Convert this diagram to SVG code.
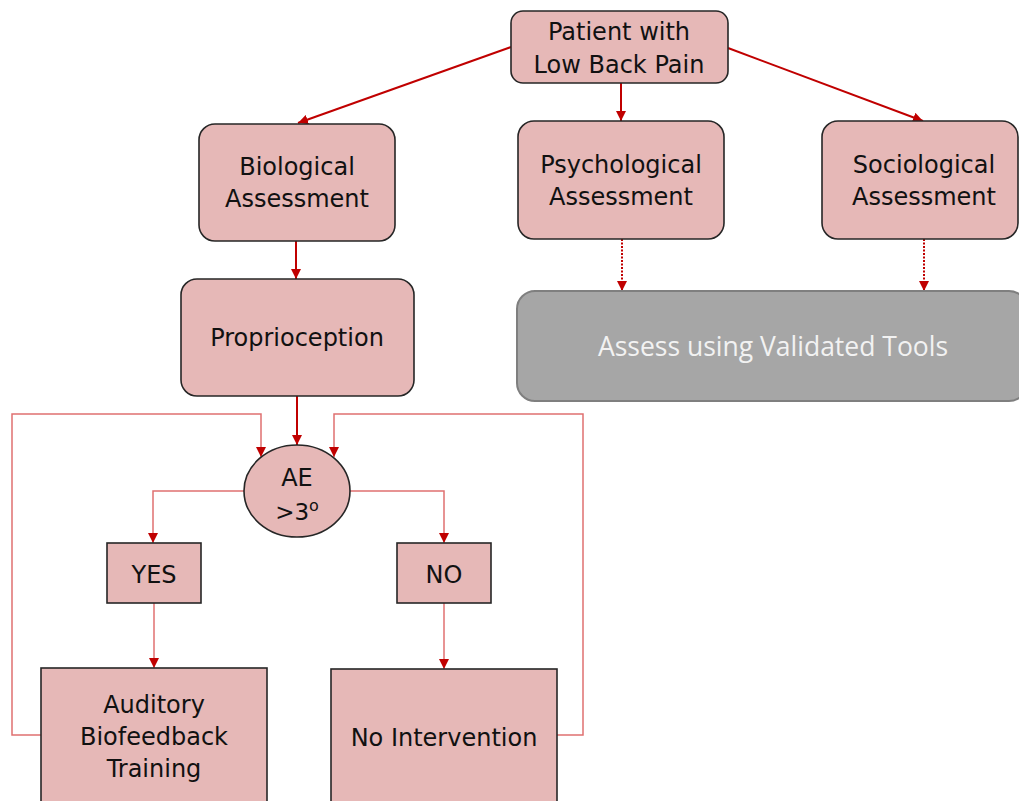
<svg xmlns="http://www.w3.org/2000/svg" width="1019" height="801" viewBox="0 0 1019 801">
<defs>
<style>
.n{fill:#e6b8b7;stroke:#262626;stroke-width:1.6}
.t{font-family:"DejaVu Sans",Verdana,sans-serif;font-size:24px;fill:#111;text-anchor:middle}
.g{fill:#a6a6a6;stroke:#7f7f7f;stroke-width:2}
.gt{font-family:"Open Sans",sans-serif;font-size:26.5px;fill:#f2f2f2;text-anchor:middle}
.c1{fill:none;stroke:#c00000;stroke-width:2}
.c2{fill:none;stroke:#e07070;stroke-width:1.5}
.c3{fill:none;stroke:#c00000;stroke-width:2;stroke-dasharray:2 1.5}
</style>
<marker id="b" viewBox="0 0 10 10" refX="10" refY="5" markerWidth="10" markerHeight="10" markerUnits="userSpaceOnUse" orient="auto"><path d="M0,0 L10,5 L0,10 z" fill="#c00000"/></marker>
</defs>
<g id="connectors">
<path class="c1" d="M511,47 L298,123" marker-end="url(#b)"/>
<path class="c1" d="M621,83 L621,121" marker-end="url(#b)"/>
<path class="c1" d="M728,48 L923,121" marker-end="url(#b)"/>
<path class="c1" d="M296,241 L296,279" marker-end="url(#b)"/>
<path class="c1" d="M297,396 L297,445" marker-end="url(#b)"/>
<path class="c3" d="M622,239 L622,291" marker-end="url(#b)"/>
<path class="c3" d="M924,239 L924,291" marker-end="url(#b)"/>
<path class="c2" d="M41,735 L12,735 L12,414 L261,414 L261,457" marker-end="url(#b)"/>
<path class="c2" d="M557,735 L583,735 L583,414 L334,414 L334,457" marker-end="url(#b)"/>
<path class="c2" d="M245,491 L153,491 L153,543" marker-end="url(#b)"/>
<path class="c2" d="M350,491 L444,491 L444,543" marker-end="url(#b)"/>
<path class="c2" d="M154,603 L154,668" marker-end="url(#b)"/>
<path class="c2" d="M444,603 L444,669" marker-end="url(#b)"/>
</g>
<g id="patient">
<rect class="n" x="511" y="11" width="217" height="72" rx="12"/>
<text class="t" x="619" y="40">Patient with</text>
<text class="t" x="619" y="73">Low Back Pain</text>
</g>
<g id="biological">
<rect class="n" x="199" y="124" width="196" height="117" rx="16"/>
<text class="t" x="297" y="175">Biological</text>
<text class="t" x="297" y="207">Assessment</text>
</g>
<g id="psychological">
<rect class="n" x="518" y="121" width="206" height="118" rx="16"/>
<text class="t" x="621" y="173">Psychological</text>
<text class="t" x="621" y="205">Assessment</text>
</g>
<g id="sociological">
<rect class="n" x="822" y="121" width="196" height="118" rx="16"/>
<text class="t" x="924" y="173">Sociological</text>
<text class="t" x="924" y="205">Assessment</text>
</g>
<g id="proprioception">
<rect class="n" x="181" y="279" width="233" height="117" rx="16"/>
<text class="t" x="297" y="346">Proprioception</text>
</g>
<g id="assess">
<rect class="g" x="517" y="291" width="510" height="110" rx="18"/>
<text class="gt" x="773" y="356">Assess using Validated Tools</text>
</g>
<g id="ae">
<ellipse class="n" cx="297" cy="491" rx="53" ry="46"/>
<text class="t" x="297" y="486">AE</text>
<text class="t" x="297" y="520" style="font-size:23px">&gt;3<tspan dy="-9" style="font-size:16px">o</tspan></text>
</g>
<g id="yes">
<rect class="n" x="107" y="543" width="94" height="60"/>
<text class="t" x="154" y="583">YES</text>
</g>
<g id="no">
<rect class="n" x="397" y="543" width="94" height="60"/>
<text class="t" x="444" y="583">NO</text>
</g>
<g id="auditory">
<rect class="n" x="41" y="668" width="226" height="140"/>
<text class="t" x="154" y="713">Auditory</text>
<text class="t" x="154" y="745">Biofeedback</text>
<text class="t" x="154" y="777">Training</text>
</g>
<g id="nointervention">
<rect class="n" x="331" y="669" width="226" height="140"/>
<text class="t" x="444" y="746">No Intervention</text>
</g>
</svg>
